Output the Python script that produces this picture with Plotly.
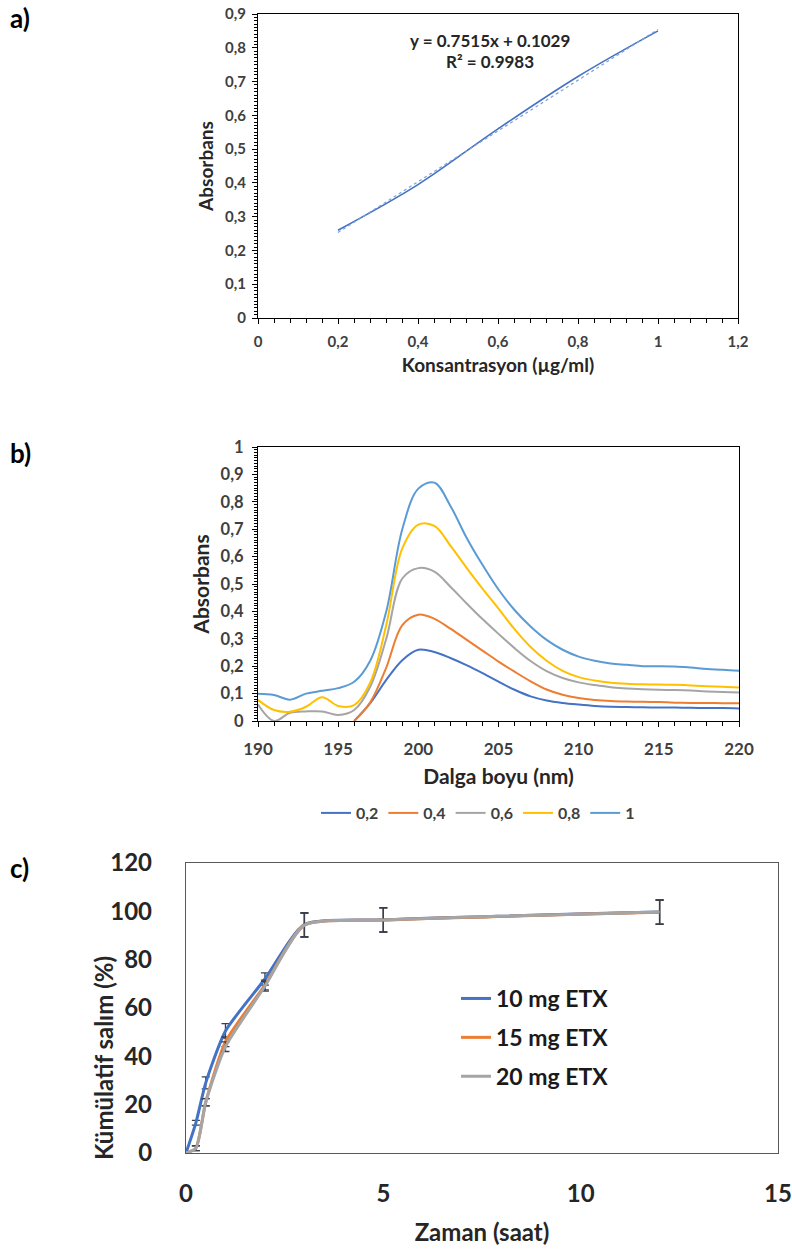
import plotly.graph_objects as go

# ---------------- Panel a: calibration ----------------
conc = [0.2, 0.4, 0.6, 0.8, 1.0]
absorb = [0.26, 0.395, 0.56, 0.715, 0.85]
trend_slope = 0.7515
trend_intercept = 0.1029
a_xticks = [0, 0.2, 0.4, 0.6, 0.8, 1.0, 1.2]
a_xticktext = ["0", "0,2", "0,4", "0,6", "0,8", "1", "1,2"]
a_yticks = [0, 0.1, 0.2, 0.3, 0.4, 0.5, 0.6, 0.7, 0.8, 0.9]
a_yticktext = ["0", "0,1", "0,2", "0,3", "0,4", "0,5", "0,6", "0,7", "0,8", "0,9"]

# ---------------- Panel b: spectra ----------------
wavelength = list(range(190, 221))
abs_02 = [None, None, None, None, None, None, 0.0, 0.065, 0.15, 0.222, 0.26, 0.252, 0.23, 0.204, 0.175,
          0.144, 0.114, 0.09, 0.075, 0.066, 0.06, 0.055, 0.052, 0.051, 0.05, 0.049, 0.049, 0.048, 0.047, 0.047, 0.046]
abs_04 = [None, None, None, None, None, None, 0.0, 0.068, 0.195, 0.35, 0.388, 0.373, 0.337, 0.297, 0.257,
          0.217, 0.18, 0.145, 0.115, 0.096, 0.084, 0.077, 0.073, 0.071, 0.07, 0.069, 0.067, 0.066, 0.066, 0.065, 0.065]
abs_06 = [0.06, 0.0, 0.03, 0.035, 0.035, 0.022, 0.04, 0.125, 0.3, 0.52, 0.558, 0.545, 0.49, 0.43, 0.372,
          0.318, 0.266, 0.219, 0.182, 0.157, 0.141, 0.131, 0.123, 0.119, 0.116, 0.114, 0.113, 0.111, 0.108, 0.106, 0.104]
abs_08 = [0.077, 0.04, 0.034, 0.052, 0.087, 0.055, 0.058, 0.14, 0.35, 0.63, 0.717, 0.712, 0.64, 0.56, 0.483,
          0.41, 0.335, 0.27, 0.22, 0.183, 0.16, 0.148, 0.14, 0.136, 0.134, 0.133, 0.132, 0.13, 0.127, 0.125, 0.122]
abs_10 = [0.099, 0.095, 0.078, 0.1, 0.11, 0.12, 0.143, 0.22, 0.4, 0.7, 0.848, 0.87, 0.785, 0.67, 0.57,
          0.48, 0.405, 0.345, 0.296, 0.26, 0.235, 0.22, 0.21, 0.205, 0.2, 0.2, 0.199, 0.195, 0.19, 0.187, 0.183]
b_names = ["0,2", "0,4", "0,6", "0,8", "1"]
b_colors = ["#4472C4", "#ED7D31", "#A5A5A5", "#FFC000", "#5B9BD5"]
b_xticks = [190, 195, 200, 205, 210, 215, 220]
b_xticktext = ["190", "195", "200", "205", "210", "215", "220"]
b_yticks = [0, 0.1, 0.2, 0.3, 0.4, 0.5, 0.6, 0.7, 0.8, 0.9, 1.0]
b_yticktext = ["0", "0,1", "0,2", "0,3", "0,4", "0,5", "0,6", "0,7", "0,8", "0,9", "1"]

# ---------------- Panel c: release ----------------
time_h = [0, 0.25, 0.5, 1, 2, 3, 5, 12]
rel_10 = [0, 12.5, 29, 50.5, 72, 94.5, 96.5, 99.7]
rel_15 = [0, 2, 21, 46, 69.5, 94.3, 96.4, 99.6]
rel_20 = [0, 2, 21, 44, 69, 94.3, 96.4, 99.7]
err_10 = [0, 1, 2.5, 3, 2.5, 5, 5, 5]
err_15 = [0, 1, 1.5, 2, 2, 5, 5, 5]
err_20 = [0, 1, 1.5, 2, 2, 5, 5, 5]
c_names = ["10 mg ETX", "15 mg ETX", "20 mg ETX"]
c_colors = ["#4472C4", "#ED7D31", "#A5A5A5"]
c_xticks = [0, 5, 10, 15]
c_yticks = [0, 20, 40, 60, 80, 100, 120]

FONT = "Lato"
TICKC = "#404040"
TITC = "#262626"
W, H = 792, 1254

fig = go.Figure()

# Panel a traces
fig.add_trace(go.Scatter(x=conc, y=absorb, mode="lines", line=dict(color="#4472C4", width=1.6, shape="spline"),
                         xaxis="x", yaxis="y", showlegend=False))
trend_x = [conc[0], conc[-1]]
trend_y = [trend_slope * v + trend_intercept for v in trend_x]
fig.add_trace(go.Scatter(x=trend_x, y=trend_y, mode="lines", line=dict(color="#7F9FD8", width=1.2, dash="dot"),
                         xaxis="x", yaxis="y", showlegend=False))

# Panel b traces
for name, col, vals in zip(b_names, b_colors, [abs_02, abs_04, abs_06, abs_08, abs_10]):
    fig.add_trace(go.Scatter(x=wavelength, y=vals, mode="lines", name=name,
                             line=dict(color=col, width=2, shape="spline", smoothing=1.0),
                             xaxis="x2", yaxis="y2", legend="legend", connectgaps=False))

# Panel c traces
for i, (name, col, vals, err) in enumerate(zip(c_names, c_colors, [rel_10, rel_15, rel_20], [err_10, err_15, err_20])):
    fig.add_trace(go.Scatter(x=time_h, y=vals, mode="lines", name=name,
                             line=dict(color=col, width=3, shape="spline", smoothing=0.6),
                             error_y=dict(type="data", array=err, visible=True, color="#3a3f4a", thickness=1.3, width=4),
                             xaxis="x3", yaxis="y3", legend="legend2", legendgroup=f"g{i}"))

def px_x(p):
    return p / W

def px_y(p):
    return 1 - p / H

axis_common = dict(showgrid=False, zeroline=False, showline=True, linecolor="black", linewidth=1.2, mirror=True,
                   automargin=False)

fig.update_layout(
    template="none",
    width=W, height=H, autosize=False,
    margin=dict(l=0, r=0, t=0, b=0, pad=0, autoexpand=False),
    paper_bgcolor="white", plot_bgcolor="white",
    font=dict(family=FONT, color=TICKC, weight="bold"),
    xaxis=dict(domain=[px_x(258), px_x(738)], range=[0, 1.2], tickvals=a_xticks, ticktext=a_xticktext,
               ticks="outside", ticklen=5, tickcolor="black", ticklabelstandoff=5,
               minor=dict(dtick=0.04, ticks="outside", ticklen=4, tickcolor="black"),
               tickfont=dict(size=15, color=TICKC), anchor="y",
               title=dict(text="Konsantrasyon (µg/ml)", font=dict(size=19, color=TITC), standoff=9),
               **axis_common),
    yaxis=dict(domain=[px_y(318), px_y(14)], range=[0, 0.9], tickvals=a_yticks, ticktext=a_yticktext,
               ticks="outside", ticklen=5, tickcolor="black", ticklabelstandoff=3,
               minor=dict(dtick=0.01, ticks="outside", ticklen=3, tickcolor="black"),
               tickfont=dict(size=15, color=TICKC), anchor="x",
               title=dict(text="Absorbans", font=dict(size=19, color=TITC), standoff=6),
               **axis_common),
    xaxis2=dict(domain=[px_x(258), px_x(739)], range=[190, 220], tickvals=b_xticks, ticktext=b_xticktext,
                ticks="outside", ticklen=5, tickcolor="black", ticklabelstandoff=7,
                minor=dict(dtick=1, ticks="outside", ticklen=4, tickcolor="black"),
                tickfont=dict(size=17, color=TICKC), anchor="y2",
                title=dict(text="Dalga boyu (nm)", font=dict(size=21, color=TITC), standoff=11),
                **axis_common),
    yaxis2=dict(domain=[px_y(721), px_y(447)], range=[0, 1], tickvals=b_yticks, ticktext=b_yticktext,
                ticks="outside", ticklen=5, tickcolor="black", ticklabelstandoff=5,
                minor=dict(dtick=0.01, ticks="outside", ticklen=3, tickcolor="black"),
                tickfont=dict(size=16.5, color=TICKC), anchor="x2",
                title=dict(text="Absorbans", font=dict(size=21, color=TITC), standoff=5),
                **axis_common),
    xaxis3=dict(domain=[px_x(186), px_x(778)], range=[0, 15], tickvals=c_xticks,
                ticks="", ticklabelstandoff=19, showgrid=False, zeroline=False, showline=True,
                linecolor="#595959", linewidth=1.3, mirror=True, automargin=False,
                tickfont=dict(size=24, color=TITC), anchor="y3",
                title=dict(text="Zaman (saat)", font=dict(size=24, color=TITC), standoff=18)),
    yaxis3=dict(domain=[px_y(1153), px_y(863)], range=[0, 120], tickvals=c_yticks,
                ticks="", ticklabelstandoff=28, showgrid=False, zeroline=False, showline=True,
                linecolor="#595959", linewidth=1.3, mirror=True, automargin=False,
                tickfont=dict(size=24, color=TITC), anchor="x3"),
    legend=dict(orientation="h", x=px_x(478), xanchor="center", y=px_y(813), yanchor="middle",
                font=dict(size=16, color=TICKC), bgcolor="rgba(0,0,0,0)", itemwidth=30),
    legend2=dict(orientation="v", x=px_x(456), xanchor="left", y=px_y(977), yanchor="top",
                 font=dict(size=23, color="#1a1a1a"), bgcolor="rgba(0,0,0,0)", traceorder="grouped",
                 tracegroupgap=6, itemwidth=30),
)

annotations = [
    dict(text="a)", x=px_x(8), y=px_y(18), xanchor="left", yanchor="middle", font=dict(size=26, color="black")),
    dict(text="b)", x=px_x(8), y=px_y(453), xanchor="left", yanchor="middle", font=dict(size=26, color="black")),
    dict(text="c)", x=px_x(8), y=px_y(868), xanchor="left", yanchor="middle", font=dict(size=26, color="black")),
    dict(text="y = 0.7515x + 0.1029", x=px_x(490), y=px_y(40), xanchor="center", yanchor="middle",
         font=dict(size=17, color=TITC)),
    dict(text="R² = 0.9983", x=px_x(490), y=px_y(62), xanchor="center", yanchor="middle",
         font=dict(size=17, color=TITC)),
    dict(text="Kümülatif salım (%)", x=px_x(103), y=px_y(1058), xanchor="center", yanchor="middle",
         textangle=-90, font=dict(size=24, color=TITC)),
]
for a in annotations:
    a.update(xref="paper", yref="paper", showarrow=False)
    a["font"]["family"] = FONT
    a["font"]["weight"] = "bold"
fig.update_layout(annotations=annotations)

fig.write_html("out.html")
